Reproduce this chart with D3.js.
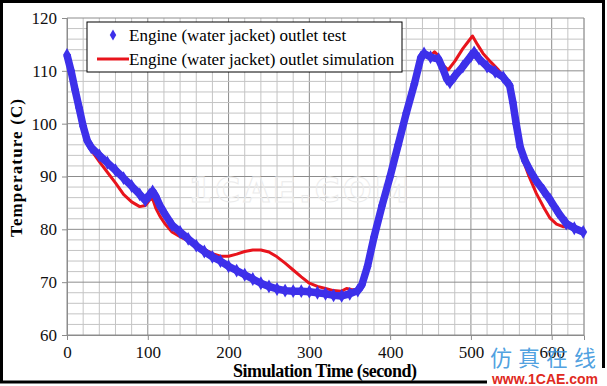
<!DOCTYPE html>
<html>
<head>
<meta charset="utf-8">
<script src="https://cdn.jsdelivr.net/npm/d3@7"></script>
<style>
  body { margin: 0; background: #fff; }
  svg { display: block; }
</style>
</head>
<body>
<svg id="chart" width="607" height="386"></svg>
<script>
// test data (blue diamonds)
const testTime = [0, 5, 10, 15, 20, 25, 30, 40, 50, 60, 70, 80, 90, 97, 102, 106, 110, 115, 120, 130,
  140, 150, 160, 170, 180, 190, 200, 210, 220, 230, 240, 250, 260, 270, 280, 290, 300, 310, 320, 330,
  340, 350, 360, 365, 372, 380, 390, 400, 410, 420, 430, 438, 442, 450, 460, 465, 470, 474, 480, 490,
  500, 504, 510, 520, 530, 540, 548, 552, 556, 561, 567, 573, 580, 590, 598, 608, 618, 628, 639];
const testTemp = [113, 110, 106.4, 103, 99.5, 96.8, 95.5, 94, 92.6, 91.2, 89.7, 88.2, 86.6, 85.5, 86.5, 87.2, 86.2, 84.5, 83.2, 80.8,
  79.5, 78.2, 76.9, 75.8, 74.8, 74, 73, 72.2, 71.4, 70.6, 69.8, 69.2, 68.7, 68.4, 68.3, 68.3, 68.2, 68, 67.8, 67.5,
  67.4, 67.8, 68.4, 69.5, 73, 78.5, 84.5, 90, 96, 102, 107.5, 112.5, 113.3, 112.6, 112.2, 110.5, 108.5, 107.8, 109, 110.8,
  112.8, 113.5, 112.3, 110.8, 109.8, 108.8, 107.2, 104, 100, 95.6, 93, 91.2, 89.4, 87.3, 85.6, 83.2, 81.1, 80.2, 79.5];

// simulation data (red line)
const simTime = [0, 10, 20, 25, 30, 40, 50, 60, 70, 80, 90, 97, 102, 106, 110, 115, 121, 130, 140, 150,
  160, 170, 180, 190, 200, 210, 220, 230, 240, 250, 260, 270, 280, 290, 300, 310, 320, 330, 340, 346,
  352, 358, 365, 372, 380, 390, 400, 410, 420, 430, 440, 450, 455, 460, 466, 472, 480, 490, 497, 502,
  508, 515, 525, 534, 542, 548, 552, 556, 563, 572, 581, 590, 598, 606, 614, 620, 630, 640];
const simTemp = [113, 106.4, 99.5, 96.5, 95, 92.8, 90.8, 88.8, 86.6, 85.2, 84.3, 84.5, 85.5, 85.8, 84, 82.5, 81.1, 79.5, 78.6, 77.8,
  77, 76.2, 75.4, 74.9, 74.9, 75.3, 75.8, 76.1, 76.1, 75.7, 74.8, 73.6, 72.3, 71, 69.8, 69.2, 68.8, 68.4, 68.3, 68.8,
  68.6, 68.5, 69.5, 73, 78.5, 84.5, 90, 96, 102, 107.5, 112.8, 112.8, 113.6, 112.8, 111, 110.2, 111.8, 114.2, 115.6, 116.6,
  115, 113.3, 111.6, 110.2, 108.5, 106.5, 103, 99, 93.8, 90, 86.8, 84.2, 82.1, 81, 80.5, 80.5, 80, 79.5];

const xTicks = [0, 100, 200, 300, 400, 500, 600];
const yTicks = [60, 70, 80, 90, 100, 110, 120];
const legendLabels = ["Engine (water jacket) outlet test", "Engine (water jacket) outlet simulation"];

const svg = d3.select("#chart");
const serif = "'Liberation Serif', 'Times New Roman', serif";
const blue = "#3d30ea", red = "#e8141c";

const x = d3.scaleLinear().domain([0, 640]).range([67, 584]);
const y = d3.scaleLinear().domain([60, 120]).range([335, 18]);

// grid: minor every 20 s / 2 C, major every 100 s / 10 C
const grid = svg.append("g");
grid.selectAll("line.vx")
    .data(d3.range(0, 641, 20))
    .enter().append("line")
    .attr("x1", d => x(d)).attr("x2", d => x(d))
    .attr("y1", y(60)).attr("y2", y(120))
    .attr("stroke", d => d % 100 === 0 ? "#8c8c8c" : "#c4c4c4")
    .attr("stroke-width", 1);
grid.selectAll("line.hy")
    .data(d3.range(60, 121, 2))
    .enter().append("line")
    .attr("y1", d => y(d)).attr("y2", d => y(d))
    .attr("x1", x(0)).attr("x2", x(640))
    .attr("stroke", d => d % 10 === 0 ? "#8c8c8c" : "#c4c4c4")
    .attr("stroke-width", 1);

// faint watermark
svg.append("text")
    .attr("x", 300).attr("y", 202)
    .attr("text-anchor", "middle")
    .style("font", "bold 34px 'DejaVu Sans', sans-serif")
    .style("letter-spacing", "3px")
    .attr("fill", "none")
    .attr("stroke", "#ebebeb")
    .attr("stroke-width", 1)
    .text("1CAE.COM");

// axes
const xAxis = svg.append("g")
    .attr("transform", `translate(0,${y(60)})`)
    .call(d3.axisBottom(x).tickValues(xTicks).tickSize(5).tickFormat(d3.format("d")));
const yAxis = svg.append("g")
    .attr("transform", `translate(${x(0)},0)`)
    .call(d3.axisLeft(y).tickValues(yTicks).tickSize(5).tickFormat(d3.format("d")));
[xAxis, yAxis].forEach(a => {
    a.select(".domain").attr("stroke", "#8c8c8c");
    a.selectAll(".tick line").attr("stroke", "#8c8c8c");
    a.selectAll("text").style("font", `17px ${serif}`).attr("fill", "#111");
});
xAxis.selectAll("text").attr("dy", "0.71em").attr("y", 11);
yAxis.selectAll("text").attr("x", -10);

// right edge of plot
svg.append("line")
    .attr("x1", x(640)).attr("x2", x(640))
    .attr("y1", y(60)).attr("y2", y(120))
    .attr("stroke", "#8c8c8c");

// series
const lineGen = d3.line().x(d => x(d[0])).y(d => y(d[1]));
const simData = d3.zip(simTime, simTemp);
const testData = d3.zip(testTime, testTemp);

svg.append("path")
    .datum(simData)
    .attr("d", lineGen)
    .attr("fill", "none")
    .attr("stroke", red)
    .attr("stroke-width", 3)
    .attr("stroke-linejoin", "round");

svg.append("path")
    .datum(testData)
    .attr("d", lineGen)
    .attr("fill", "none")
    .attr("stroke", blue)
    .attr("stroke-width", 7.5)
    .attr("stroke-linejoin", "round");

const diamond = d3.symbol().type(d3.symbolDiamond).size(55);
svg.append("g").selectAll("path")
    .data(testData)
    .enter().append("path")
    .attr("d", diamond)
    .attr("transform", d => `translate(${x(d[0])},${y(d[1])})`)
    .attr("fill", blue);

// legend
const lg = svg.append("g");
lg.append("rect")
    .attr("x", 87).attr("y", 22).attr("width", 315).attr("height", 50)
    .attr("fill", "#fff").attr("stroke", "#000").attr("stroke-width", 1);
lg.append("path")
    .attr("d", d3.symbol().type(d3.symbolDiamond).size(36))
    .attr("transform", "translate(113,35)")
    .attr("fill", blue);
lg.append("line")
    .attr("x1", 97).attr("x2", 129).attr("y1", 59).attr("y2", 59)
    .attr("stroke", red).attr("stroke-width", 3);
lg.selectAll("text")
    .data(legendLabels)
    .enter().append("text")
    .attr("x", 129)
    .attr("y", (d, i) => 41 + i * 24)
    .style("font", `17px ${serif}`)
    .attr("fill", "#000")
    .text(d => d);

// axis titles
svg.append("text")
    .attr("x", 325).attr("y", 377)
    .attr("text-anchor", "middle")
    .attr("textLength", 184)
    .style("font", `bold 18px ${serif}`)
    .text("Simulation Time (second)");
svg.append("text")
    .attr("transform", "translate(22,168) rotate(-90)")
    .attr("text-anchor", "middle")
    .attr("textLength", 138)
    .style("font", `bold 17px ${serif}`)
    .text("Temperature  (C)");

// outer frame
svg.append("rect")
    .attr("x", 1.5).attr("y", 1.5).attr("width", 602).attr("height", 380.5)
    .attr("fill", "none").attr("stroke", "#000").attr("stroke-width", 3);

// logo bottom right (overlaps the "600" label like the original)
svg.append("rect")
    .attr("x", 487).attr("y", 368).attr("width", 120).attr("height", 18)
    .attr("fill", "#fff");
svg.append("text")
    .attr("x", 546).attr("y", 366)
    .attr("text-anchor", "middle")
    .style("font", "22px 'Noto Sans CJK SC', sans-serif")
    .style("letter-spacing", "6px")
    .attr("fill", "#3a95dc")
    .attr("fill-opacity", 0.9)
    .text("仿真在线");
svg.append("text")
    .attr("x", 545).attr("y", 384)
    .attr("text-anchor", "middle")
    .style("font", "bold 14px 'Liberation Sans', Arial, sans-serif")
    .attr("fill", "#e02a1e")
    .text("www.1CAE.com");
</script>
</body>
</html>
